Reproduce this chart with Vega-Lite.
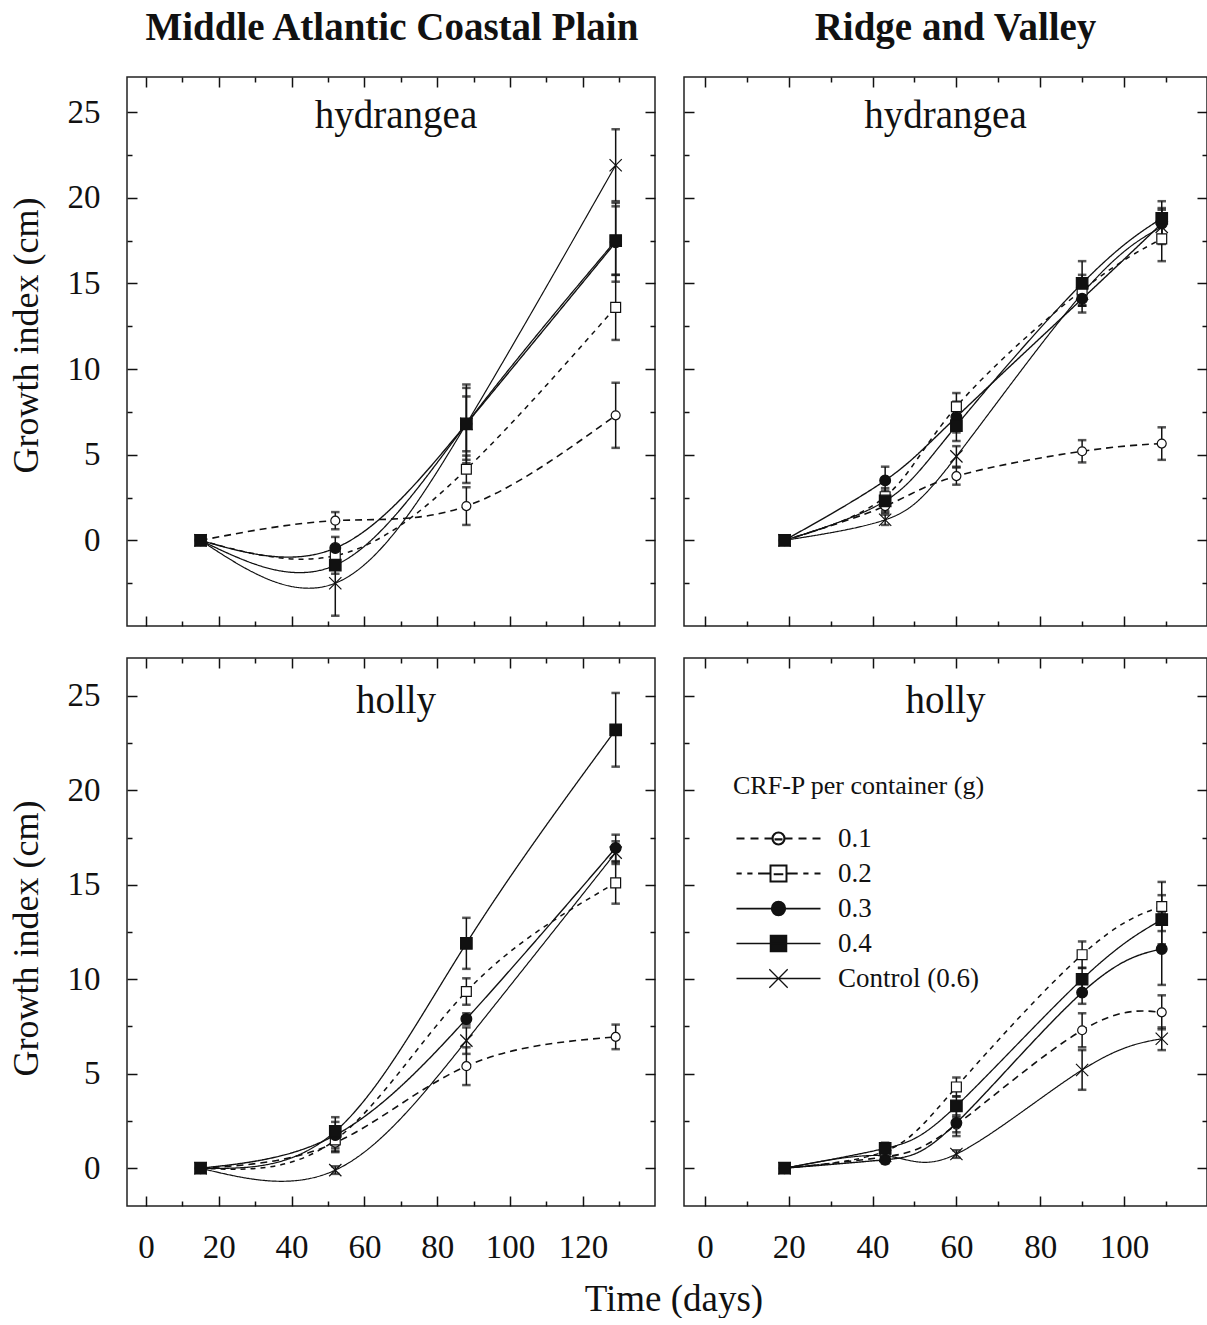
{
  "$schema": "https://vega.github.io/schema/vega-lite/v6.json",
  "padding": {"left": 7, "top": 8, "right": 0, "bottom": 0},
  "config": {
    "font": "Liberation Serif",
    "view": {"stroke": "#222", "strokeWidth": 1.5},
    "axis": {"domain": false, "grid": false, "tickColor": "#111", "tickWidth": 1.5, "labelColor": "#111", "labelFont": "Liberation Serif", "labelFontSize": 33, "titleFont": "Liberation Serif", "titleColor": "#111", "titleFontWeight": "normal", "labelOverlap": false, "labelFlush": false, "labelBound": false},
    "title": {"font": "Liberation Serif", "color": "#111"}
  },
  "datasets": {
    "g": [
      {"panel": "MH", "series": "Control (0.6)", "day": 15, "growth": 0, "se": null},
      {"panel": "MH", "series": "Control (0.6)", "day": 52, "growth": -2.5, "se": 1.9},
      {"panel": "MH", "series": "Control (0.6)", "day": 88, "growth": 6.8, "se": 2.1},
      {"panel": "MH", "series": "Control (0.6)", "day": 129, "growth": 21.9, "se": 2.1},
      {"panel": "MH", "series": "0.1", "day": 15, "growth": 0, "se": null},
      {"panel": "MH", "series": "0.1", "day": 52, "growth": 1.15, "se": 0.5},
      {"panel": "MH", "series": "0.1", "day": 88, "growth": 2.0, "se": 1.1},
      {"panel": "MH", "series": "0.1", "day": 129, "growth": 7.3, "se": 1.9},
      {"panel": "MH", "series": "0.2", "day": 15, "growth": 0, "se": null},
      {"panel": "MH", "series": "0.2", "day": 52, "growth": -0.9, "se": 0.4},
      {"panel": "MH", "series": "0.2", "day": 88, "growth": 4.15, "se": 0.8},
      {"panel": "MH", "series": "0.2", "day": 129, "growth": 13.6, "se": 1.9},
      {"panel": "MH", "series": "0.3", "day": 15, "growth": 0, "se": null},
      {"panel": "MH", "series": "0.3", "day": 52, "growth": -0.45, "se": 0.65},
      {"panel": "MH", "series": "0.3", "day": 88, "growth": 6.8, "se": 1.6},
      {"panel": "MH", "series": "0.3", "day": 129, "growth": 17.4, "se": 2.3},
      {"panel": "MH", "series": "0.4", "day": 15, "growth": 0, "se": null},
      {"panel": "MH", "series": "0.4", "day": 52, "growth": -1.45, "se": 0.5},
      {"panel": "MH", "series": "0.4", "day": 88, "growth": 6.8, "se": 2.3},
      {"panel": "MH", "series": "0.4", "day": 129, "growth": 17.5, "se": 2.0},

      {"panel": "RH", "series": "Control (0.6)", "day": 19, "growth": 0, "se": null},
      {"panel": "RH", "series": "Control (0.6)", "day": 43, "growth": 1.2, "se": 0.3},
      {"panel": "RH", "series": "Control (0.6)", "day": 60, "growth": 4.9, "se": 0.6},
      {"panel": "RH", "series": "Control (0.6)", "day": 90, "growth": 14.4, "se": 0.7},
      {"panel": "RH", "series": "Control (0.6)", "day": 109, "growth": 18.3, "se": 1.0},
      {"panel": "RH", "series": "0.1", "day": 19, "growth": 0, "se": null},
      {"panel": "RH", "series": "0.1", "day": 43, "growth": 2.0, "se": 0.4},
      {"panel": "RH", "series": "0.1", "day": 60, "growth": 3.75, "se": 0.5},
      {"panel": "RH", "series": "0.1", "day": 90, "growth": 5.2, "se": 0.65},
      {"panel": "RH", "series": "0.1", "day": 109, "growth": 5.65, "se": 0.95},
      {"panel": "RH", "series": "0.2", "day": 19, "growth": 0, "se": null},
      {"panel": "RH", "series": "0.2", "day": 43, "growth": 2.55, "se": 0.5},
      {"panel": "RH", "series": "0.2", "day": 60, "growth": 7.8, "se": 0.8},
      {"panel": "RH", "series": "0.2", "day": 90, "growth": 14.6, "se": 0.9},
      {"panel": "RH", "series": "0.2", "day": 109, "growth": 17.6, "se": 1.3},
      {"panel": "RH", "series": "0.3", "day": 19, "growth": 0, "se": null},
      {"panel": "RH", "series": "0.3", "day": 43, "growth": 3.5, "se": 0.8},
      {"panel": "RH", "series": "0.3", "day": 60, "growth": 7.2, "se": 0.9},
      {"panel": "RH", "series": "0.3", "day": 90, "growth": 14.1, "se": 0.8},
      {"panel": "RH", "series": "0.3", "day": 109, "growth": 18.5, "se": 0.9},
      {"panel": "RH", "series": "0.4", "day": 19, "growth": 0, "se": null},
      {"panel": "RH", "series": "0.4", "day": 43, "growth": 2.3, "se": 0.6},
      {"panel": "RH", "series": "0.4", "day": 60, "growth": 6.7, "se": 0.9},
      {"panel": "RH", "series": "0.4", "day": 90, "growth": 15.0, "se": 1.3},
      {"panel": "RH", "series": "0.4", "day": 109, "growth": 18.8, "se": 1.0},

      {"panel": "MY", "series": "Control (0.6)", "day": 15, "growth": 0, "se": null},
      {"panel": "MY", "series": "Control (0.6)", "day": 52, "growth": -0.1, "se": 0.2},
      {"panel": "MY", "series": "Control (0.6)", "day": 88, "growth": 6.75, "se": 0.7},
      {"panel": "MY", "series": "Control (0.6)", "day": 129, "growth": 16.7, "se": 0.6},
      {"panel": "MY", "series": "0.1", "day": 15, "growth": 0, "se": null},
      {"panel": "MY", "series": "0.1", "day": 52, "growth": 1.35, "se": 0.5},
      {"panel": "MY", "series": "0.1", "day": 88, "growth": 5.4, "se": 1.0},
      {"panel": "MY", "series": "0.1", "day": 129, "growth": 6.95, "se": 0.65},
      {"panel": "MY", "series": "0.2", "day": 15, "growth": 0, "se": null},
      {"panel": "MY", "series": "0.2", "day": 52, "growth": 1.5, "se": 0.6},
      {"panel": "MY", "series": "0.2", "day": 88, "growth": 9.35, "se": 0.7},
      {"panel": "MY", "series": "0.2", "day": 129, "growth": 15.1, "se": 1.1},
      {"panel": "MY", "series": "0.3", "day": 15, "growth": 0, "se": null},
      {"panel": "MY", "series": "0.3", "day": 52, "growth": 1.75, "se": 0.7},
      {"panel": "MY", "series": "0.3", "day": 88, "growth": 7.9, "se": 0.3},
      {"panel": "MY", "series": "0.3", "day": 129, "growth": 16.95, "se": 0.7},
      {"panel": "MY", "series": "0.4", "day": 15, "growth": 0, "se": null},
      {"panel": "MY", "series": "0.4", "day": 52, "growth": 1.95, "se": 0.75},
      {"panel": "MY", "series": "0.4", "day": 88, "growth": 11.9, "se": 1.35},
      {"panel": "MY", "series": "0.4", "day": 129, "growth": 23.2, "se": 1.95},

      {"panel": "RY", "series": "Control (0.6)", "day": 19, "growth": 0, "se": null},
      {"panel": "RY", "series": "Control (0.6)", "day": 43, "growth": 0.65, "se": 0.3},
      {"panel": "RY", "series": "Control (0.6)", "day": 60, "growth": 0.75, "se": 0.2},
      {"panel": "RY", "series": "Control (0.6)", "day": 90, "growth": 5.2, "se": 1.05},
      {"panel": "RY", "series": "Control (0.6)", "day": 109, "growth": 6.85, "se": 0.6},
      {"panel": "RY", "series": "0.1", "day": 19, "growth": 0, "se": null},
      {"panel": "RY", "series": "0.1", "day": 43, "growth": 0.6, "se": 0.3},
      {"panel": "RY", "series": "0.1", "day": 60, "growth": 2.3, "se": 0.4},
      {"panel": "RY", "series": "0.1", "day": 90, "growth": 7.3, "se": 0.9},
      {"panel": "RY", "series": "0.1", "day": 109, "growth": 8.25, "se": 0.9},
      {"panel": "RY", "series": "0.2", "day": 19, "growth": 0, "se": null},
      {"panel": "RY", "series": "0.2", "day": 43, "growth": 0.9, "se": 0.3},
      {"panel": "RY", "series": "0.2", "day": 60, "growth": 4.3, "se": 0.5},
      {"panel": "RY", "series": "0.2", "day": 90, "growth": 11.3, "se": 0.7},
      {"panel": "RY", "series": "0.2", "day": 109, "growth": 13.85, "se": 1.3},
      {"panel": "RY", "series": "0.3", "day": 19, "growth": 0, "se": null},
      {"panel": "RY", "series": "0.3", "day": 43, "growth": 0.45, "se": 0.2},
      {"panel": "RY", "series": "0.3", "day": 60, "growth": 2.4, "se": 0.7},
      {"panel": "RY", "series": "0.3", "day": 90, "growth": 9.3, "se": 0.6},
      {"panel": "RY", "series": "0.3", "day": 109, "growth": 11.6, "se": 1.9},
      {"panel": "RY", "series": "0.4", "day": 19, "growth": 0, "se": null},
      {"panel": "RY", "series": "0.4", "day": 43, "growth": 1.05, "se": 0.3},
      {"panel": "RY", "series": "0.4", "day": 60, "growth": 3.3, "se": 0.5},
      {"panel": "RY", "series": "0.4", "day": 90, "growth": 10.0, "se": 0.6},
      {"panel": "RY", "series": "0.4", "day": 109, "growth": 13.15, "se": 1.3}
    ]
  },
  "title": {"text": "Time (days)", "orient": "bottom", "anchor": "middle", "fontSize": 37, "fontWeight": "normal", "offset": 12, "dx": 66},
  "spacing": 25,
  "resolve": {"scale": {"shape": "independent", "fill": "independent", "size": "independent", "strokeDash": "independent", "strokeWidth": "independent", "stroke": "independent"}, "legend": {"shape": "independent", "fill": "independent", "size": "independent", "strokeDash": "independent", "strokeWidth": "independent", "stroke": "independent"}},
  "hconcat": [
    {
      "title": {"text": "Middle Atlantic Coastal Plain", "fontSize": 39, "fontWeight": "bold", "anchor": "middle", "offset": 28, "dx": 60},
      "spacing": 28,
      "resolve": {"scale": {"shape": "independent", "fill": "independent", "size": "independent", "strokeDash": "independent", "strokeWidth": "independent"}, "legend": {"shape": "independent", "fill": "independent", "size": "independent", "strokeDash": "independent", "strokeWidth": "independent"}},
      "vconcat": [
        {
          "width": 528, "height": 549,
          "title": {"text": "hydrangea", "fontSize": 39, "fontWeight": "normal", "anchor": "middle", "offset": -60, "dx": 5},
          "data": {"name": "g"},
          "transform": [{"filter": "datum.panel === 'MH'"}],
          "resolve": {"axis": {"x": "independent", "y": "independent"}},
          "layer": [
            {
              "mark": {"type": "line", "interpolate": "natural", "color": "#111"},
              "encoding": {
                "x": {"field": "day", "type": "quantitative", "scale": {"domain": [-5.2, 139.8], "nice": false, "zero": false},
                  "axis": {"orient": "bottom", "values": [0,10,20,30,40,50,60,70,80,90,100,110,120,130], "labels": false, "tickSize": {"condition": {"test": "datum.value % 20 === 0", "value": -10}, "value": -5}, "title": null}},
                "y": {"field": "growth", "type": "quantitative", "scale": {"domain": [-5, 27.05], "nice": false, "zero": false},
                  "axis": {"orient": "left", "values": [-2.5,0,2.5,5,7.5,10,12.5,15,17.5,20,22.5,25], "labelExpr": "datum.value % 5 === 0 ? datum.label : ''", "tickSize": {"condition": {"test": "datum.value % 5 === 0", "value": -10}, "value": -5}, "labelPadding": 37, "title": "Growth index (cm)", "titleFontSize": 36, "titlePadding": 22, "titleY": 258}},
                "strokeDash": {"field": "series", "type": "nominal", "scale": {"domain": ["0.1","0.2","0.3","0.4","Control (0.6)"], "range": [[7,5],[5,5],[1,0],[1,0],[1,0]]}, "legend": null},
                "strokeWidth": {"field": "series", "type": "ordinal", "scale": {"domain": ["0.1","0.2","0.3","0.4","Control (0.6)"], "range": [1.6,1.2,1.8,2.2,1]}, "legend": null}
              }
            },
            {
              "transform": [{"filter": "isValid(datum.se)"}],
              "mark": {"type": "errorbar", "ticks": {"size": 7, "stroke": "#111", "strokeWidth": 1.5}, "rule": {"stroke": "#111", "strokeWidth": 1.5}},
              "encoding": {
                "x": {"field": "day", "type": "quantitative", "scale": {"domain": [-5.2, 139.8], "nice": false, "zero": false}, "axis": null},
                "y": {"field": "growth", "type": "quantitative", "scale": {"domain": [-5, 27.05], "nice": false, "zero": false}, "axis": null},
                "yError": {"field": "se"}
              }
            },
            {
              "mark": {"type": "point", "filled": true, "stroke": "#111", "strokeWidth": 1.2, "opacity": 1},
              "encoding": {
                "x": {"field": "day", "type": "quantitative", "scale": {"domain": [-5.2, 139.8], "nice": false, "zero": false},
                  "axis": {"orient": "top", "values": [0,10,20,30,40,50,60,70,80,90,100,110,120,130], "labels": false, "tickSize": {"condition": {"test": "datum.value % 20 === 0", "value": -10}, "value": -5}, "title": null}},
                "y": {"field": "growth", "type": "quantitative", "scale": {"domain": [-5, 27.05], "nice": false, "zero": false},
                  "axis": {"orient": "right", "values": [-2.5,0,2.5,5,7.5,10,12.5,15,17.5,20,22.5,25], "labels": false, "tickSize": {"condition": {"test": "datum.value % 5 === 0", "value": -10}, "value": -5}, "title": null}},
                "shape": {"field": "series", "type": "nominal", "scale": {"domain": ["0.1","0.2","0.3","0.4","Control (0.6)"], "range": ["circle","square","circle","square","M-1,-1L1,1M-1,1L1,-1"]}, "legend": null},
                "fill": {"field": "series", "type": "nominal", "scale": {"domain": ["0.1","0.2","0.3","0.4","Control (0.6)"], "range": ["white","white","#111","#111","white"]}, "legend": null},
                "size": {"field": "series", "type": "ordinal", "scale": {"domain": ["0.1","0.2","0.3","0.4","Control (0.6)"], "range": [80,150,100,200,196]}, "legend": null}
              }
            }
          ]
        },
        {
          "width": 528, "height": 548,
          "title": {"text": "holly", "fontSize": 39, "fontWeight": "normal", "anchor": "middle", "offset": -64, "dx": 5},
          "data": {"name": "g"},
          "transform": [{"filter": "datum.panel === 'MY'"}],
          "resolve": {"axis": {"x": "independent", "y": "independent"}},
          "layer": [
            {
              "mark": {"type": "line", "interpolate": "natural", "color": "#111"},
              "encoding": {
                "x": {"field": "day", "type": "quantitative", "scale": {"domain": [-5.2, 139.8], "nice": false, "zero": false},
                  "axis": {"orient": "bottom", "values": [0,10,20,30,40,50,60,70,80,90,100,110,120,130], "labelExpr": "datum.value % 20 === 0 ? datum.label : ''", "tickSize": {"condition": {"test": "datum.value % 20 === 0", "value": -10}, "value": -5}, "labelPadding": 35, "title": null}},
                "y": {"field": "growth", "type": "quantitative", "scale": {"domain": [-2, 27], "nice": false, "zero": false},
                  "axis": {"orient": "left", "values": [0,2.5,5,7.5,10,12.5,15,17.5,20,22.5,25], "labelExpr": "datum.value % 5 === 0 ? datum.label : ''", "tickSize": {"condition": {"test": "datum.value % 5 === 0", "value": -10}, "value": -5}, "labelPadding": 37, "title": "Growth index (cm)", "titleFontSize": 36, "titlePadding": 22, "titleY": 280}},
                "strokeDash": {"field": "series", "type": "nominal", "scale": {"domain": ["0.1","0.2","0.3","0.4","Control (0.6)"], "range": [[7,5],[5,5],[1,0],[1,0],[1,0]]}, "legend": null},
                "strokeWidth": {"field": "series", "type": "ordinal", "scale": {"domain": ["0.1","0.2","0.3","0.4","Control (0.6)"], "range": [1.6,1.2,1.8,2.2,1]}, "legend": null}
              }
            },
            {
              "transform": [{"filter": "isValid(datum.se)"}],
              "mark": {"type": "errorbar", "ticks": {"size": 7, "stroke": "#111", "strokeWidth": 1.5}, "rule": {"stroke": "#111", "strokeWidth": 1.5}},
              "encoding": {
                "x": {"field": "day", "type": "quantitative", "scale": {"domain": [-5.2, 139.8], "nice": false, "zero": false}, "axis": null},
                "y": {"field": "growth", "type": "quantitative", "scale": {"domain": [-2, 27], "nice": false, "zero": false}, "axis": null},
                "yError": {"field": "se"}
              }
            },
            {
              "mark": {"type": "point", "filled": true, "stroke": "#111", "strokeWidth": 1.2, "opacity": 1},
              "encoding": {
                "x": {"field": "day", "type": "quantitative", "scale": {"domain": [-5.2, 139.8], "nice": false, "zero": false},
                  "axis": {"orient": "top", "values": [0,10,20,30,40,50,60,70,80,90,100,110,120,130], "labels": false, "tickSize": {"condition": {"test": "datum.value % 20 === 0", "value": -10}, "value": -5}, "title": null}},
                "y": {"field": "growth", "type": "quantitative", "scale": {"domain": [-2, 27], "nice": false, "zero": false},
                  "axis": {"orient": "right", "values": [0,2.5,5,7.5,10,12.5,15,17.5,20,22.5,25], "labels": false, "tickSize": {"condition": {"test": "datum.value % 5 === 0", "value": -10}, "value": -5}, "title": null}},
                "shape": {"field": "series", "type": "nominal", "scale": {"domain": ["0.1","0.2","0.3","0.4","Control (0.6)"], "range": ["circle","square","circle","square","M-1,-1L1,1M-1,1L1,-1"]}, "legend": null},
                "fill": {"field": "series", "type": "nominal", "scale": {"domain": ["0.1","0.2","0.3","0.4","Control (0.6)"], "range": ["white","white","#111","#111","white"]}, "legend": null},
                "size": {"field": "series", "type": "ordinal", "scale": {"domain": ["0.1","0.2","0.3","0.4","Control (0.6)"], "range": [80,150,100,200,196]}, "legend": null}
              }
            }
          ]
        }
      ]
    },
    {
      "title": {"text": "Ridge and Valley", "fontSize": 39, "fontWeight": "bold", "anchor": "middle", "offset": 28, "dx": 10},
      "spacing": 28,
      "resolve": {"scale": {"shape": "independent", "fill": "independent", "size": "independent", "strokeDash": "independent", "strokeWidth": "independent", "stroke": "independent"}, "legend": {"shape": "independent", "fill": "independent", "size": "independent", "strokeDash": "independent", "strokeWidth": "independent", "stroke": "independent"}},
      "vconcat": [
        {
          "width": 523, "height": 549,
          "title": {"text": "hydrangea", "fontSize": 39, "fontWeight": "normal", "anchor": "middle", "offset": -60},
          "data": {"name": "g"},
          "transform": [{"filter": "datum.panel === 'RH'"}],
          "resolve": {"axis": {"x": "independent", "y": "independent"}},
          "layer": [
            {
              "mark": {"type": "line", "interpolate": "natural", "color": "#111"},
              "encoding": {
                "x": {"field": "day", "type": "quantitative", "scale": {"domain": [-5, 119.8], "nice": false, "zero": false},
                  "axis": {"orient": "bottom", "values": [0,10,20,30,40,50,60,70,80,90,100,110], "labels": false, "tickSize": {"condition": {"test": "datum.value % 20 === 0", "value": -10}, "value": -5}, "title": null}},
                "y": {"field": "growth", "type": "quantitative", "scale": {"domain": [-5, 27.05], "nice": false, "zero": false},
                  "axis": {"orient": "left", "values": [-2.5,0,2.5,5,7.5,10,12.5,15,17.5,20,22.5,25], "labels": false, "tickSize": {"condition": {"test": "datum.value % 5 === 0", "value": -10}, "value": -5}, "title": null}},
                "strokeDash": {"field": "series", "type": "nominal", "scale": {"domain": ["0.1","0.2","0.3","0.4","Control (0.6)"], "range": [[7,5],[5,5],[1,0],[1,0],[1,0]]}, "legend": null},
                "strokeWidth": {"field": "series", "type": "ordinal", "scale": {"domain": ["0.1","0.2","0.3","0.4","Control (0.6)"], "range": [1.6,1.2,1.8,2.2,1]}, "legend": null}
              }
            },
            {
              "transform": [{"filter": "isValid(datum.se)"}],
              "mark": {"type": "errorbar", "ticks": {"size": 7, "stroke": "#111", "strokeWidth": 1.5}, "rule": {"stroke": "#111", "strokeWidth": 1.5}},
              "encoding": {
                "x": {"field": "day", "type": "quantitative", "scale": {"domain": [-5, 119.8], "nice": false, "zero": false}, "axis": null},
                "y": {"field": "growth", "type": "quantitative", "scale": {"domain": [-5, 27.05], "nice": false, "zero": false}, "axis": null},
                "yError": {"field": "se"}
              }
            },
            {
              "mark": {"type": "point", "filled": true, "stroke": "#111", "strokeWidth": 1.2, "opacity": 1},
              "encoding": {
                "x": {"field": "day", "type": "quantitative", "scale": {"domain": [-5, 119.8], "nice": false, "zero": false},
                  "axis": {"orient": "top", "values": [0,10,20,30,40,50,60,70,80,90,100,110], "labels": false, "tickSize": {"condition": {"test": "datum.value % 20 === 0", "value": -10}, "value": -5}, "title": null}},
                "y": {"field": "growth", "type": "quantitative", "scale": {"domain": [-5, 27.05], "nice": false, "zero": false},
                  "axis": {"orient": "right", "values": [-2.5,0,2.5,5,7.5,10,12.5,15,17.5,20,22.5,25], "labels": false, "tickSize": {"condition": {"test": "datum.value % 5 === 0", "value": -10}, "value": -5}, "title": null}},
                "shape": {"field": "series", "type": "nominal", "scale": {"domain": ["0.1","0.2","0.3","0.4","Control (0.6)"], "range": ["circle","square","circle","square","M-1,-1L1,1M-1,1L1,-1"]}, "legend": null},
                "fill": {"field": "series", "type": "nominal", "scale": {"domain": ["0.1","0.2","0.3","0.4","Control (0.6)"], "range": ["white","white","#111","#111","white"]}, "legend": null},
                "size": {"field": "series", "type": "ordinal", "scale": {"domain": ["0.1","0.2","0.3","0.4","Control (0.6)"], "range": [80,150,100,200,196]}, "legend": null}
              }
            }
          ]
        },
        {
          "width": 523, "height": 548,
          "title": {"text": "holly", "fontSize": 39, "fontWeight": "normal", "anchor": "middle", "offset": -64},
          "data": {"name": "g"},
          "transform": [{"filter": "datum.panel === 'RY'"}],
          "resolve": {"axis": {"x": "independent", "y": "independent"}, "scale": {"shape": "independent", "fill": "independent", "strokeWidth": "independent", "stroke": "independent"}},
          "layer": [
            {
              "mark": {"type": "line", "interpolate": "natural", "color": "#111"},
              "encoding": {
                "x": {"field": "day", "type": "quantitative", "scale": {"domain": [-5, 119.8], "nice": false, "zero": false},
                  "axis": {"orient": "bottom", "values": [0,10,20,30,40,50,60,70,80,90,100,110], "labelExpr": "datum.value % 20 === 0 ? datum.label : ''", "tickSize": {"condition": {"test": "datum.value % 20 === 0", "value": -10}, "value": -5}, "labelPadding": 35, "title": null}},
                "y": {"field": "growth", "type": "quantitative", "scale": {"domain": [-2, 27], "nice": false, "zero": false},
                  "axis": {"orient": "left", "values": [0,2.5,5,7.5,10,12.5,15,17.5,20,22.5,25], "labels": false, "tickSize": {"condition": {"test": "datum.value % 5 === 0", "value": -10}, "value": -5}, "title": null}},
                "strokeDash": {"field": "series", "type": "nominal", "scale": {"range": [[7,5],[5,5],[1,0],[1,0],[1,0]]}, "legend": null},
                "strokeWidth": {"field": "series", "type": "ordinal", "scale": {"range": [1.6,1.2,1.8,2.2,1]}, "legend": null}
              }
            },
            {
              "transform": [{"filter": "isValid(datum.se)"}],
              "mark": {"type": "errorbar", "ticks": {"size": 7, "stroke": "#111", "strokeWidth": 1.5}, "rule": {"stroke": "#111", "strokeWidth": 1.5}},
              "encoding": {
                "x": {"field": "day", "type": "quantitative", "scale": {"domain": [-5, 119.8], "nice": false, "zero": false}, "axis": null},
                "y": {"field": "growth", "type": "quantitative", "scale": {"domain": [-2, 27], "nice": false, "zero": false}, "axis": null},
                "yError": {"field": "se"}
              }
            },
            {
              "mark": {"type": "point", "filled": true, "stroke": "#111", "strokeWidth": 1.2, "opacity": 1},
              "encoding": {
                "x": {"field": "day", "type": "quantitative", "scale": {"domain": [-5, 119.8], "nice": false, "zero": false},
                  "axis": {"orient": "top", "values": [0,10,20,30,40,50,60,70,80,90,100,110], "labels": false, "tickSize": {"condition": {"test": "datum.value % 20 === 0", "value": -10}, "value": -5}, "title": null}},
                "y": {"field": "growth", "type": "quantitative", "scale": {"domain": [-2, 27], "nice": false, "zero": false},
                  "axis": {"orient": "right", "values": [0,2.5,5,7.5,10,12.5,15,17.5,20,22.5,25], "labels": false, "tickSize": {"condition": {"test": "datum.value % 5 === 0", "value": -10}, "value": -5}, "title": null}},
                "shape": {"field": "series", "type": "nominal", "scale": {"range": ["circle","square","circle","square","M-1,-1L1,1M-1,1L1,-1"]}, "legend": null},
                "fill": {"field": "series", "type": "nominal", "scale": {"range": ["white","white","#111","#111","white"]}, "legend": null},
                "size": {"field": "series", "type": "ordinal", "scale": {"range": [80,150,100,200,196]}, "legend": null}
              }
            },
            {
              "transform": [{"filter": "datum.day === 19"}],
              "mark": {"type": "point", "filled": true, "opacity": 0},
              "encoding": {
                "x": {"field": "day", "type": "quantitative", "scale": {"domain": [-5, 119.8], "nice": false, "zero": false}, "axis": null},
                "y": {"field": "growth", "type": "quantitative", "scale": {"domain": [-2, 27], "nice": false, "zero": false}, "axis": null},
                "shape": {"field": "series", "type": "nominal",
                  "scale": {"domain": ["0.1","0.2","0.3","0.4","Control (0.6)"], "range": [
                    "M-5.25,0L-4.25,0M-3.5,0L-2.5,0M-1.75,0L-0.75,0M0.75,0L1.75,0M2.5,0L3.5,0M4.25,0L5.25,0M0.75,0A0.75,0.75,0,1,1,-0.75,0A0.75,0.75,0,1,1,0.75,0ZM-0.5,0.1L0.5,0.1",
                    "M-5.25,0L-4.6,0M-3.9,0L-3.25,0M-2.55,0L-1,0M1,0L2.4,0M3.1,0L3.75,0M4.5,0L5.25,0M-1,-1L1,-1L1,1L-1,1ZM-0.6,0.1L0.6,0.1",
                    "M-5.25,0L5.25,0M0.85,0A0.85,0.85,0,1,1,-0.85,0A0.85,0.85,0,1,1,0.85,0Z",
                    "M-5.25,0L5.25,0M-1,-1L1,-1L1,1L-1,1Z",
                    "M-5.25,0L5.25,0M-1.15,-1.15L1.15,1.15M-1.15,1.15L1.15,-1.15"]},
                  "legend": {"orient": "none", "legendX": 49, "legendY": 115, "direction": "vertical", "padding": 0,
                    "title": "CRF-P per container (g)", "titleFont": "Liberation Serif", "titleFontSize": 26, "titleFontWeight": "normal", "titleColor": "#111", "titlePadding": 26, "titleLimit": 600,
                    "labelFont": "Liberation Serif", "labelFontSize": 27, "labelColor": "#111", "labelLimit": 400, "labelOffset": 46,
                    "symbolSize": 256, "symbolOffset": 32, "rowPadding": 7, "symbolOpacity": 1}},
                "fill": {"field": "series", "type": "nominal",
                  "scale": {"domain": ["0.1","0.2","0.3","0.4","Control (0.6)"], "range": ["white","white","#111","#111","white"]},
                  "legend": {"orient": "none", "legendX": 49, "legendY": 115, "direction": "vertical", "padding": 0,
                    "title": "CRF-P per container (g)", "titleFont": "Liberation Serif", "titleFontSize": 26, "titleFontWeight": "normal", "titleColor": "#111", "titlePadding": 26, "titleLimit": 600,
                    "labelFont": "Liberation Serif", "labelFontSize": 27, "labelColor": "#111", "labelLimit": 400, "labelOffset": 46,
                    "symbolSize": 256, "symbolOffset": 32, "rowPadding": 7, "symbolOpacity": 1}},
                "stroke": {"field": "series", "type": "nominal",
                  "scale": {"domain": ["0.1","0.2","0.3","0.4","Control (0.6)"], "range": ["#111","#111","#111","#111","#111"]},
                  "legend": {"orient": "none", "legendX": 49, "legendY": 115, "direction": "vertical", "padding": 0,
                    "title": "CRF-P per container (g)", "titleFont": "Liberation Serif", "titleFontSize": 26, "titleFontWeight": "normal", "titleColor": "#111", "titlePadding": 26, "titleLimit": 600,
                    "labelFont": "Liberation Serif", "labelFontSize": 27, "labelColor": "#111", "labelLimit": 400, "labelOffset": 46,
                    "symbolSize": 256, "symbolOffset": 32, "rowPadding": 7, "symbolOpacity": 1}},
                "strokeWidth": {"field": "series", "type": "ordinal",
                  "scale": {"domain": ["0.1","0.2","0.3","0.4","Control (0.6)"], "range": [2.2,1.3,2.6,2.6,1.2]},
                  "legend": {"orient": "none", "legendX": 49, "legendY": 115, "direction": "vertical", "padding": 0,
                    "title": "CRF-P per container (g)", "titleFont": "Liberation Serif", "titleFontSize": 26, "titleFontWeight": "normal", "titleColor": "#111", "titlePadding": 26, "titleLimit": 600,
                    "labelFont": "Liberation Serif", "labelFontSize": 27, "labelColor": "#111", "labelLimit": 400, "labelOffset": 46,
                    "symbolSize": 256, "symbolOffset": 32, "rowPadding": 7, "symbolOpacity": 1}}
              }
            }
          ]
        }
      ]
    }
  ]
}
